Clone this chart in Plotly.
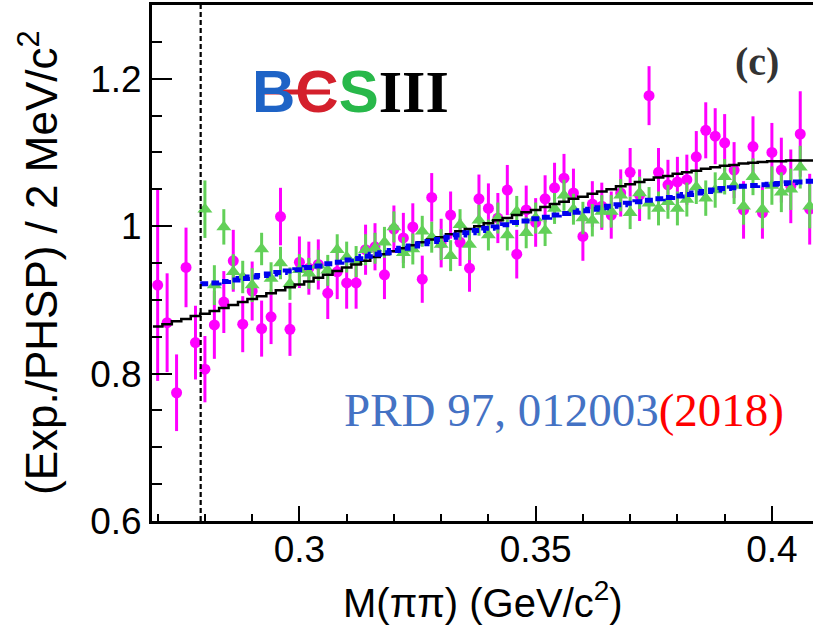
import numpy as np
import plotly.graph_objects as go

# ---------------- data ----------------
BIN_WIDTH = 0.002          # GeV/c^2 per bin
FIRST_BIN = 0.270          # centre of first bin
THRESHOLD = 0.2791         # 2 m(pi) threshold (dashed line)
X_RANGE = [0.2688, 0.4087]
Y_RANGE = [0.6, 1.3]

x_tickvals = [0.3, 0.35, 0.4]
x_ticktext = ["0.3", "0.35", "0.4"]
y_tickvals = [0.6, 0.8, 1.0, 1.2]
y_ticktext = ["0.6", "0.8", "1", "1.2"]

# magenta points (data)
data_y = [0.920, 0.869, 0.774, 0.944, 0.842, 0.806, 0.866, 0.897, 0.953, 0.867,
          0.912, 0.861, 0.877, 1.013, 0.860, 0.951, 0.943, 0.948, 0.909, 0.938,
          0.923, 0.923, 0.968, 0.972, 0.934, 0.996, 0.984, 0.999, 0.928, 1.039,
          0.977, 1.015, 0.978, 0.943, 1.037, 1.024, 1.011, 1.049, 0.962, 1.022,
          1.005, 1.037, 1.052, 1.065, 1.045, 0.986, 1.030, 1.027, 1.015, 1.045,
          1.073, 1.042, 1.177, 1.073, 1.056, 1.060, 1.063, 1.094, 1.130, 1.122,
          1.113, 1.076, 1.022, 1.108, 1.018, 1.100, 1.076, 1.054, 1.125, 1.023]
data_err = [0.130, 0.067, 0.052, 0.054, 0.050, 0.045, 0.046, 0.042, 0.042, 0.038,
            0.040, 0.038, 0.037, 0.039, 0.036, 0.035, 0.036, 0.034, 0.035, 0.037,
            0.035, 0.035, 0.034, 0.032, 0.033, 0.032, 0.034, 0.032, 0.032, 0.033,
            0.033, 0.032, 0.032, 0.032, 0.033, 0.034, 0.034, 0.034, 0.033, 0.033,
            0.033, 0.032, 0.034, 0.033, 0.033, 0.033, 0.031, 0.032, 0.032, 0.032,
            0.033, 0.035, 0.040, 0.033, 0.034, 0.034, 0.034, 0.035, 0.038, 0.038,
            0.039, 0.038, 0.039, 0.041, 0.035, 0.040, 0.044, 0.050, 0.058, 0.048]

# green triangles (start at 0.280)
GREEN_OFFSET = 5
green_y = [1.023, 0.920, 0.999, 0.938, 0.931, 0.920, 0.969, 0.929, 0.950, 0.922,
           0.941, 0.936, 0.947, 0.940, 0.968, 0.958, 0.952, 0.968, 0.970, 0.978,
           0.999, 0.964, 0.969, 0.993, 0.985, 0.975, 0.960, 1.002, 0.975, 1.008,
           0.988, 1.011, 0.988, 1.020, 0.991, 1.011, 0.994, 1.024, 1.042, 1.023,
           1.011, 1.008, 1.020, 1.020, 1.042, 1.018, 1.045, 1.031, 1.024, 1.033,
           1.024, 1.036, 1.053, 1.038, 1.049, 1.067, 1.055, 1.027, 1.067, 1.023,
           1.055, 1.046, 1.050, 1.080, 1.027]
green_err = [0.039, 0.027, 0.024, 0.024, 0.022, 0.023, 0.022, 0.022, 0.022, 0.022,
             0.021, 0.021, 0.021, 0.021, 0.021, 0.021, 0.021, 0.021, 0.021, 0.021,
             0.021, 0.021, 0.021, 0.021, 0.021, 0.021, 0.021, 0.021, 0.021, 0.021,
             0.021, 0.021, 0.021, 0.021, 0.021, 0.021, 0.021, 0.021, 0.021, 0.021,
             0.022, 0.022, 0.022, 0.022, 0.022, 0.022, 0.022, 0.022, 0.023, 0.023,
             0.023, 0.023, 0.023, 0.024, 0.024, 0.024, 0.025, 0.025, 0.025, 0.026,
             0.026, 0.027, 0.028, 0.029, 0.030]

# black histogram (all bins)
black_y = [0.864, 0.867, 0.871, 0.874, 0.878, 0.881, 0.885, 0.889, 0.893, 0.897,
           0.901, 0.905, 0.909, 0.913, 0.917, 0.921, 0.925, 0.930, 0.934, 0.939,
           0.944, 0.948, 0.953, 0.958, 0.962, 0.966, 0.970, 0.974, 0.978, 0.982,
           0.985, 0.989, 0.993, 0.996, 1.000, 1.004, 1.008, 1.011, 1.015, 1.019,
           1.022, 1.026, 1.030, 1.033, 1.037, 1.040, 1.044, 1.047, 1.050, 1.054,
           1.057, 1.060, 1.063, 1.066, 1.068, 1.071, 1.073, 1.075, 1.078, 1.080,
           1.082, 1.083, 1.085, 1.086, 1.087, 1.088, 1.088, 1.089, 1.089, 1.089]

# blue dashed curve (bins from 0.280)
blue_y = [0.922, 0.923, 0.925, 0.927, 0.929, 0.931, 0.933, 0.935, 0.937, 0.939,
          0.941, 0.944, 0.946, 0.949, 0.951, 0.954, 0.956, 0.959, 0.962, 0.964,
          0.967, 0.970, 0.973, 0.976, 0.979, 0.982, 0.985, 0.988, 0.991, 0.994,
          0.997, 0.999, 1.002, 1.005, 1.007, 1.010, 1.012, 1.015, 1.017, 1.019,
          1.021, 1.023, 1.025, 1.027, 1.029, 1.031, 1.033, 1.035, 1.037, 1.039,
          1.041, 1.043, 1.045, 1.047, 1.049, 1.051, 1.052, 1.054, 1.055, 1.056,
          1.057, 1.058, 1.059, 1.060, 1.061]

# ---------------- derived coordinates ----------------
x_all = np.round(FIRST_BIN + BIN_WIDTH * np.arange(len(data_y)), 4)
x_green = x_all[GREEN_OFFSET:GREEN_OFFSET + len(green_y)]


def step_xy(centres, values):
    edges = list(np.asarray(centres) - BIN_WIDTH / 2) + [centres[-1] + BIN_WIDTH / 2]
    return edges, list(values) + [values[-1]]


bx, by = step_xy(x_all[:len(black_y)], black_y)
ux, uy = step_xy(x_all[GREEN_OFFSET:GREEN_OFFSET + len(blue_y)], blue_y)

MAGENTA = "#ff00ff"
GREEN = "#62d058"

fig = go.Figure()
fig.add_trace(go.Scatter(
    x=x_all, y=data_y, mode="markers",
    marker=dict(symbol="circle", size=11, color=MAGENTA),
    error_y=dict(type="data", array=data_err, color=MAGENTA, thickness=3, width=0)))
fig.add_trace(go.Scatter(
    x=x_green, y=green_y, mode="markers",
    marker=dict(symbol="triangle-up", size=13, color=GREEN),
    error_y=dict(type="data", array=green_err, color=GREEN, thickness=3, width=0)))
fig.add_trace(go.Scatter(
    x=bx, y=by, mode="lines", line=dict(color="black", width=2.5, shape="hv")))
fig.add_trace(go.Scatter(
    x=ux, y=uy, mode="lines",
    line=dict(color="#0000ee", width=5, shape="hv", dash="8px,4px")))
fig.add_trace(go.Scatter(
    x=[THRESHOLD, THRESHOLD], y=Y_RANGE, mode="lines",
    line=dict(color="black", width=2.2, dash="5px,3px")))

TICKFONT = dict(family="Liberation Sans, Arial, sans-serif", size=37, color="black")

fig.update_xaxes(
    range=X_RANGE, showline=True, linewidth=3, linecolor="black", mirror=True,
    ticks="inside", ticklen=15, tickwidth=2, tickcolor="black",
    tickvals=x_tickvals, ticktext=x_ticktext, tickfont=TICKFONT,
    ticklabelstandoff=-6,
    showgrid=False, zeroline=False,
    minor=dict(dtick=0.01, tick0=0.27, ticklen=7, tickwidth=2, ticks="inside",
               tickcolor="black", showgrid=False))
fig.update_yaxes(
    range=Y_RANGE, showline=True, linewidth=3, linecolor="black", mirror=False,
    ticks="inside", ticklen=20, tickwidth=2, tickcolor="black",
    tickvals=y_tickvals, ticktext=y_ticktext, tickfont=TICKFONT,
    showgrid=False, zeroline=False,
    minor=dict(dtick=0.05, tick0=0.6, ticklen=10, tickwidth=2, ticks="inside",
               tickcolor="black", showgrid=False))

L, R, T, B = 152, 0, 5, 109
W, H = 813, 630
PW, PH = W - L - R, H - T - B


def px(xp):
    return (xp - L) / PW


def py(yp):
    return (H - B - yp) / PH


ann = []
ann.append(dict(text="(Exp./PHSP) / 2 MeV/c<sup>2</sup>", x=px(38), y=0.5,
                xref="paper", yref="paper", textangle=-90, showarrow=False,
                xanchor="center", yanchor="middle",
                font=dict(family="Liberation Sans, Arial, sans-serif", size=44, color="black")))
ann.append(dict(text="M(ππ) (GeV/c<sup>2</sup>)", x=0.5, y=py(600),
                xref="paper", yref="paper", showarrow=False,
                xanchor="center", yanchor="middle",
                font=dict(family="Liberation Sans, Arial, sans-serif", size=40, color="black")))
ann.append(dict(text="<b>(c)</b>", x=px(757), y=py(62), xref="paper", yref="paper",
                showarrow=False, xanchor="center", yanchor="middle",
                font=dict(family="Liberation Serif, Times New Roman, serif", size=40, color="#333333")))
ann.append(dict(text="<span style='color:#4472c4'>PRD 97, 012003</span>"
                     "<span style='color:#ff0000'>(2018)</span>",
                x=px(564), y=py(410), xref="paper", yref="paper", showarrow=False,
                xanchor="center", yanchor="middle",
                font=dict(family="Liberation Serif, Times New Roman, serif", size=47)))

# BESIII logo, rebuilt as coloured text
logo_text = ("<b><span style='color:#1e63c6'>B</span>"
             "<span style='color:#d4202c'>C</span>"
             "<span style='color:#28b84a'>S</span>"
             "<span style='font-family:Liberation Serif, serif;color:#000000'>III</span></b>")
ann.append(dict(text=logo_text, x=px(350), y=py(92), xref="paper", yref="paper",
                showarrow=False, xanchor="center", yanchor="middle",
                font=dict(family="Liberation Sans, sans-serif", size=60, color="black")))

fig.update_layout(
    width=W, height=H, margin=dict(l=L, r=R, t=T, b=B),
    plot_bgcolor="white", paper_bgcolor="white", showlegend=False,
    annotations=ann,
    shapes=[dict(type="line", xref="paper", yref="paper", x0=px(262), x1=px(330),
                 y0=py(92), y1=py(92), line=dict(color="#d4202c", width=5), layer="above")])

fig.write_html("out.html")
